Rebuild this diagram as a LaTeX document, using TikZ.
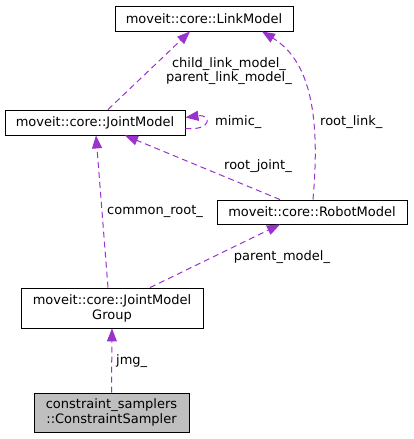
\documentclass[tikz,border=0pt]{standalone}
\usepackage{fontspec}
\setmainfont{DejaVu Sans}
\usetikzlibrary{arrows.meta}

\definecolor{violetlien}{HTML}{9A32CD}
\definecolor{grisfond}{HTML}{BFBFBF}

\begin{document}
\begin{tikzpicture}[x=1pt, y=-1pt, >={Triangle[length=13pt,width=10pt]},
  classe/.style={draw=black, line width=0.9pt, rectangle, inner sep=0pt, align=center, font=\fontsize{13}{15}\selectfont},
  lien/.style={->, dash pattern=on 6pt off 4pt, line width=1pt, draw=violetlien},
  etiquette/.style={inner sep=0pt, align=center, font=\fontsize{13}{14}\selectfont}]

\useasboundingbox (0,0) rectangle (413,439);

% Les classes
\node[classe, minimum width=178pt, minimum height=25pt] (LM) at (204,18.5) {moveit::core::LinkModel};
\node[classe, minimum width=180pt, minimum height=25pt] (JM) at (95,122.5) {moveit::core::JointModel};
\node[classe, minimum width=190pt, minimum height=24pt] (RM) at (312,212) {moveit::core::RobotModel};
\node[classe, minimum width=182pt, minimum height=40pt] (JMG) at (112,308) {moveit::core::JointModel\\Group};
\node[classe, fill=grisfond, minimum width=155pt, minimum height=39pt] (CS) at (111.5,412.5) {constraint\_samplers\\::ConstraintSampler};

% Les relations
\draw[lien] ([xshift=13pt]JM.north) -- ([xshift=-14pt]LM.south);
\draw[lien] ([yshift=-6pt]JM.east) .. controls (212,131) and (212,114) .. ([yshift=5pt]JM.east);
\draw[lien] ([xshift=1pt]RM.north) .. controls (320,120) and (312,62) .. ([xshift=58pt]LM.south);
\draw[lien] ([xshift=-32pt]RM.north) -- ([xshift=30pt]JM.south);
\draw[lien] ([xshift=-4pt]JMG.north) -- ([xshift=1pt]JM.south);
\draw[lien] ([xshift=38pt]JMG.north) -- ([xshift=-32pt]RM.south);
\draw[lien] (CS.north) -- (JMG.south);

% Les étiquettes
\node[etiquette] (Lliens) at (229,71) {child\_link\_model\_\\parent\_link\_model\_};
\node[etiquette, anchor=west] (Lmimic) at (215,122) {mimic\_};
\node[etiquette, anchor=west] (Lroot) at (320,122) {root\_link\_};
\node[etiquette] (Ljoint) at (258,166) {root\_joint\_};
\node[etiquette] (Lcommon) at (155,211) {common\_root\_};
\node[etiquette] (Lparent) at (282,257) {parent\_model\_};
\node[etiquette, anchor=west] (Ljmg) at (116,361) {jmg\_};

\end{tikzpicture}
\end{document}
